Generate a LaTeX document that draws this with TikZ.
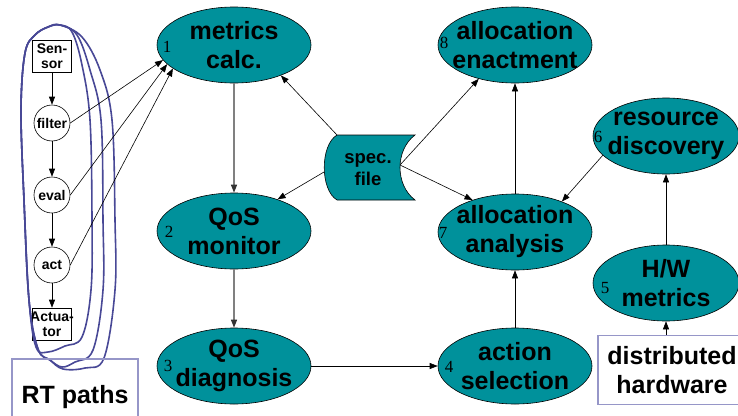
\documentclass[tikz,border=0pt]{standalone}
\usepackage{fontspec}
\setmainfont{Liberation Sans}
\newfontfamily\numfont{Liberation Serif}
\usetikzlibrary{shapes.geometric,arrows.meta}
\definecolor{tealfill}{RGB}{0,145,155}
\definecolor{lav}{RGB}{150,150,200}
\definecolor{penblue}{RGB}{72,72,150}
\tikzset{
  stage/.style={ellipse, draw=black, line width=0.6pt, fill=tealfill,
    minimum width=154pt, minimum height=76pt, inner sep=0pt},
  narrow/.style={minimum width=146pt},
  big/.style={font=\bfseries\fontsize{25}{29}\selectfont, align=center, inner sep=0pt},
  small/.style={font=\bfseries\fontsize{14}{15}\selectfont, align=center, inner sep=0pt},
  numlbl/.style={font=\numfont\fontsize{17}{17}\selectfont, inner sep=0pt},
  arr/.style={-{Triangle[length=8pt,width=6pt]}, line width=0.6pt},
  grayarr/.style={-{Triangle[length=8pt,width=6pt,color=black!80]}, draw=black!50, line width=1.2pt},
  pathbox/.style={rectangle, draw=black, line width=0.6pt, minimum width=39pt,
    minimum height=32pt, inner sep=0pt},
  pathcirc/.style={circle, draw=black, line width=0.6pt, minimum size=36pt, inner sep=0pt},
  framebox/.style={rectangle, draw=lav, line width=1.2pt,
    font=\bfseries\fontsize{25}{29}\selectfont, align=center},
  pen/.style={draw=penblue, line width=1.6pt, line join=round}
}
\begin{document}
\begin{tikzpicture}[x=1pt,y=-1pt]
\useasboundingbox (0,0) rectangle (738,415);
\clip (0,0) rectangle (738,415);

% real-time path: sensor to actuator
\node[pathbox, label={[small]center:Sen-\\sor}] (sensor) at (52,56) {};
\node[pathcirc, label={[small]center:filter}] (filter) at (52,123) {};
\node[pathcirc, label={[small]center:eval}] (eval) at (52,195) {};
\node[pathcirc, label={[small]center:act}] (act) at (52,265) {};
\node[pathbox, label={[small]center:Actua-\\tor}] (actuator) at (52,324) {};
\draw[arr] (sensor) -- (filter);
\draw[arr] (filter) -- (eval);
\draw[arr] (eval) -- (act);
\draw[arr] (act) -- (actuator);

% hand-drawn outlines around the replicated paths
\draw[pen] plot[smooth cycle, tension=0.6] coordinates {
  (35,35) (48,27) (60,25) (72,32) (82,65) (90,120) (92,220) (91,290) (82,337)
  (65,346) (48,352) (36,347) (29,300) (24,200) (21,110) (25,53)};
\draw[pen] plot[smooth cycle, tension=0.6] coordinates {
  (35,35) (48,27) (60,25) (77,35) (90,70) (101,120) (103,220) (103,290) (93,350)
  (75,362) (62,367) (50,360) (38,349) (29,300) (24,200) (21,110) (25,53)};
\draw[pen] plot[smooth cycle, tension=0.6] coordinates {
  (35,35) (48,27) (60,25) (82,37) (100,70) (112,120) (115,220) (115,290) (104,358)
  (85,368) (63,369) (50,360) (38,349) (29,300) (24,200) (21,110) (25,53)};

\node[framebox, minimum width=126pt, minimum height=76pt] (rt) at (75,397) {RT paths};

% adaptation stages
\node[stage, label={[big]center:metrics\\calc.}] (m1) at (234,45) {};
\node[stage, label={[big]center:QoS\\monitor}] (m2) at (234,231) {};
\node[stage, label={[big]center:QoS\\diagnosis}] (m3) at (234,366) {};
\node[stage, label={[big]center:action\\selection}] (m4) at (515,366) {};
\node[stage, narrow, label={[big]center:H/W\\metrics}] (m5) at (666,283) {};
\node[stage, narrow, label={[big]center:resource\\discovery}] (m6) at (666,136) {};
\node[stage, label={[big]center:allocation\\analysis}] (m7) at (515,232) {};
\node[stage, label={[big]center:allocation\\enactment}] (m8) at (515,45) {};

\node[numlbl] (n1) at (167,47) {1};
\node[numlbl] (n2) at (169,232) {2};
\node[numlbl] (n3) at (168,366) {3};
\node[numlbl] (n4) at (449,367) {4};
\node[numlbl] (n5) at (605,288) {5};
\node[numlbl] (n6) at (598,137) {6};
\node[numlbl] (n7) at (443,233) {7};
\node[numlbl] (n8) at (444,43) {8};

% specification file (stored-data symbol)
\draw[fill=tealfill, line width=0.6pt] (337,135) -- (415,135)
  .. controls (395,150) and (395,185) .. (415,200) -- (337,200)
  .. controls (320,190) and (320,145) .. (337,135) -- cycle;
\node[font=\bfseries\fontsize{18.5}{22}\selectfont, align=center, inner sep=0pt] (spec) at (368,170) {spec.\\file};
\coordinate (sptl) at (337,135);
\coordinate (spl) at (324,172);
\coordinate (spr) at (400,165);

\node[framebox, minimum width=148pt, minimum height=69pt, inner sep=0pt] (hw) at (672,370) {distributed\\hardware};

% connectors
\draw[arr] (filter.east) -- (m1.192);
\draw[arr] (eval.east) -- (m1.196);
\draw[arr] (act.east) -- (m1.201);
\draw[grayarr] (m1) -- (m2);
\draw[grayarr] (m2) -- (m3);
\draw[arr] (m3) -- (m4);
\draw[arr] (m4) -- (m7);
\draw[arr] (m7) -- (m8);
\draw[arr] (m5) -- (m6);
\draw[arr] (m6.197) -- (m7.33);
\draw[arr] (m5.south |- hw.north) -- (m5.south);
\draw[arr] (sptl) -- (m1.327);
\draw[arr] (spl) -- (m2.36);
\draw[arr] (spr) -- (m8.223);
\draw[arr] (spr) -- (m7.143);
\end{tikzpicture}
\end{document}
